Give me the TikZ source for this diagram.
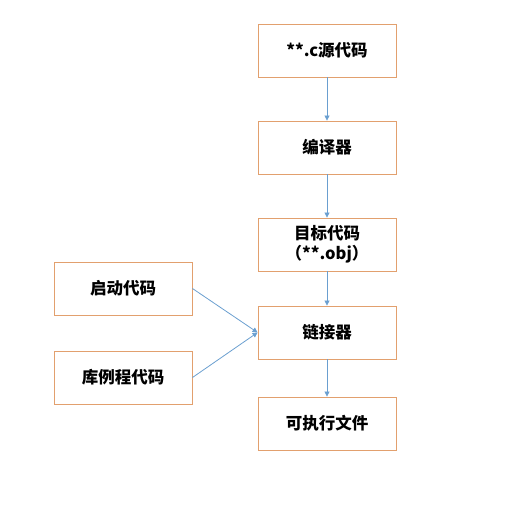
\documentclass[tikz,border=0pt]{standalone}
\usepackage{fontspec}
\setmainfont{Liberation Sans}
\newfontfamily\cjk{Noto Sans CJK SC}
\usetikzlibrary{arrows.meta,decorations.pathmorphing}
\definecolor{boxc}{HTML}{E2A06E}
\definecolor{arrc}{HTML}{6A9FD0}
\begin{document}
\begin{tikzpicture}[x=1pt,y=-1pt,
  box/.style={draw=boxc,line width=0.9pt,minimum width=138pt,minimum height=53pt,inner sep=0pt,align=center,font=\fontsize{16.5}{20}\selectfont\cjk\bfseries},
  arr/.style={draw=arrc,line width=0.8pt,-{Triangle[length=5pt,width=5pt]}}]
\useasboundingbox (0,0) rectangle (518,512);
\node[box] (src) at (327,50.5) {**.c源代码};
\node[box] (cmp) at (327,147.5) {编译器};
\node[box] (obj) at (327,244.5) {目标代码\\（**.obj）};
\node[box] (lnk) at (327,332.5) {链接器};
\node[box] (exe) at (327,423.5) {可执行文件};
\node[box] (start) at (123,288.5) {启动代码};
\node[box] (lib) at (123,377.5) {库例程代码};
\draw[arr] (src) -- (cmp);
\draw[arr] (cmp) -- (obj);
\draw[arr] (obj) -- (lnk);
\draw[arr] (lnk) -- (exe);
\draw[arr] (start.east) -- (lnk.west);
\draw[arr] (lib.east) -- (lnk.west);
\end{tikzpicture}
\end{document}
